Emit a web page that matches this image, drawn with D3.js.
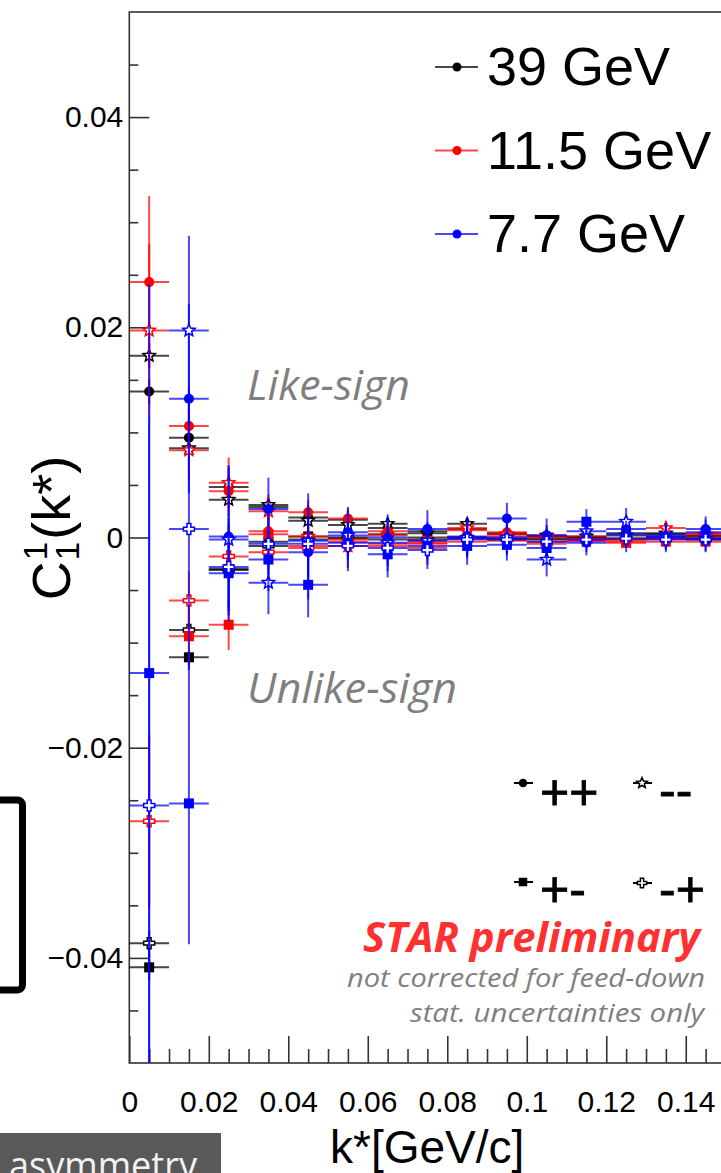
<!DOCTYPE html>
<html><head><meta charset="utf-8">
<script src="https://cdn.jsdelivr.net/npm/d3@7/dist/d3.min.js"></script>
<style>html,body{margin:0;padding:0;background:#fff;} svg{display:block;}</style>
</head><body>
<svg id="c" width="721" height="1173"></svg>
<script>
// ---------------- DATA ----------------
const kStar = [0.005,0.015,0.025,0.035,0.045,0.055,0.065,0.075,0.085,0.095,0.105,0.115,0.125,0.135,0.145];
const binHalfWidth = 0.005;

// 39 GeV (black)
const c39_pp = [0.0139,0.0095,0.0048,0.0029,0.0019,0.0017,0.0009,0.0006,0.0008,0.0004,0.0001,0.0000,0.0004,0.0003,0.0002];
const c39_mm = [0.0173,0.0085,0.0036,0.0031,0.0016,0.0012,0.0013,0.0004,0.0013,0.0003,0.0002,0.0001,0.0002,0.0004,0.0001];
const c39_pm = [-0.0409,-0.0114,-0.0030,-0.0004,0.0001,-0.0001,-0.0002,0.0000,-0.0001,-0.0002,-0.0001,0.0000,-0.0002,-0.0001,-0.0001];
const c39_mp = [-0.0386,-0.0088,-0.0031,-0.0008,-0.0002,0.0000,0.0003,-0.0002,0.0000,-0.0001,-0.0002,0.0000,-0.0001,0.0000,-0.0002];
const e39    = [0.0012,0.0006,0.0004,0.0003,0.0003,0.0002,0.0002,0.0002,0.0002,0.0002,0.0002,0.0001,0.0001,0.0001,0.0001];

// 11.5 GeV (red)
const c11_pp = [0.0243,0.0106,0.0044,0.0006,0.0024,0.0018,0.0006,-0.0005,0.0007,0.0005,0.0002,0.0001,-0.0002,-0.0001,0.0004];
const c11_mm = [0.0197,0.0083,0.0052,0.0025,0.0001,-0.0008,0.0002,-0.0006,0.0009,0.0003,0.0000,-0.0003,-0.0004,0.0009,0.0003];
const c11_pm = [null,-0.0094,-0.0083,0.0003,-0.0008,-0.0002,-0.0006,-0.0003,-0.0004,-0.0003,-0.0004,-0.0002,-0.0005,-0.0004,-0.0004];
const c11_mp = [-0.0270,-0.0060,-0.0018,-0.0014,-0.0010,-0.0004,-0.0008,-0.0010,0.0000,0.0001,-0.0006,-0.0003,-0.0002,-0.0001,0.0000];
const e11    = [0.0082,0.0028,0.0024,0.0016,0.0012,0.0010,0.0009,0.0008,0.0007,0.0007,0.0006,0.0006,0.0005,0.0005,0.0005];

// 7.7 GeV (blue)
const c77_pp = [null,0.0132,0.0001,0.0027,-0.0014,0.0005,0.0000,0.0008,0.0001,0.0018,0.0002,-0.0005,0.0008,0.0001,0.0008];
const c77_mm = [null,0.0197,-0.0002,-0.0043,-0.0003,0.0002,-0.0005,-0.0003,0.0000,0.0000,-0.0021,0.0006,0.0015,0.0002,-0.0001];
const c77_pm = [-0.0129,-0.0253,-0.0034,-0.0021,-0.0045,-0.0005,-0.0016,-0.0008,-0.0008,-0.0007,-0.0010,0.0015,0.0003,0.0000,0.0005];
const c77_mp = [-0.0255,0.0008,-0.0028,-0.0006,-0.0006,-0.0008,-0.0010,-0.0012,-0.0002,-0.0002,-0.0004,-0.0002,-0.0001,-0.0002,-0.0002];
const e77_like   = [0.037,0.0090,0.0068,0.0030,0.0045,0.0024,0.0022,0.0018,0.0018,0.0015,0.0016,0.0012,0.0013,0.0012,0.0012];
const e77_unlike = [0.037,0.0134,0.0046,0.0030,0.0031,0.0024,0.0022,0.0018,0.0018,0.0015,0.0016,0.0012,0.0013,0.0012,0.0012];

const energyLabels = ["39 GeV","11.5 GeV","7.7 GeV"];
const energyColors = ["#000000","#ff0000","#0000ff"];
const chargeLabels = ["++","--","+-","-+"];
const xTickValues = [0,0.02,0.04,0.06,0.08,0.1,0.12,0.14];
const xTickLabels = ["0","0.02","0.04","0.06","0.08","0.1","0.12","0.14"];
const yTickValues = [-0.04,-0.02,0,0.02,0.04];
const yTickLabels = ["\u22120.04","\u22120.02","0","0.02","0.04"];

// ---------------- SETUP ----------------
const svg = d3.select("#c");
const L = 129.3, R = 725.5, T = 12, B = 1063;
const x = d3.scaleLinear().domain([0,0.15]).range([L,R]);
const y = d3.scaleLinear().domain([-0.05,0.05]).range([B,T]);

svg.append("defs").append("clipPath").attr("id","plotclip")
  .append("rect").attr("x",L).attr("y",T).attr("width",R-L).attr("height",B-T);

const yMinor = d3.range(-0.045,0.0451,0.005).map(v=>+v.toFixed(3)).filter(v=>Math.abs(Math.round(v/0.02)*0.02 - v) > 1e-6);
const xMinor = d3.range(0.005,0.15,0.005).map(v=>+v.toFixed(3)).filter(v=>Math.abs(Math.round(v/0.02)*0.02 - v) > 1e-6);

const fam = "Liberation Sans, Arial, sans-serif";
const gYminor = svg.append("g").attr("transform",`translate(${L},0)`)
  .call(d3.axisLeft(y).tickValues(yMinor).tickSize(-9).tickFormat(""));
const gY = svg.append("g").attr("transform",`translate(${L},0)`)
  .call(d3.axisLeft(y).tickValues(yTickValues).tickSize(-20).tickPadding(6)
        .tickFormat((d,i)=>yTickLabels[i]));
const gXminor = svg.append("g").attr("transform",`translate(0,${B})`)
  .call(d3.axisBottom(x).tickValues(xMinor).tickSize(-14).tickFormat(""));
const gX = svg.append("g").attr("transform",`translate(0,${B})`)
  .call(d3.axisBottom(x).tickValues(xTickValues).tickSize(-27).tickPadding(28)
        .tickFormat((d,i)=>xTickLabels[i]));
[gYminor,gY,gXminor,gX].forEach(g=>{
  g.select(".domain").remove();
  g.selectAll(".tick line").attr("stroke","#333").attr("stroke-width",1.6);
});
gY.selectAll(".tick text").attr("font-family",fam).attr("font-size",30).attr("fill","#000");
gX.selectAll(".tick text").attr("font-family",fam).attr("font-size",30).attr("fill","#000");

svg.append("rect").attr("x",L).attr("y",T).attr("width",R-L).attr("height",B-T)
  .attr("fill","none").attr("stroke","#333").attr("stroke-width",1.6);

// ---------------- MARKERS ----------------
function starPath(Rr){ const r=Rr*0.45; let p="";
  for(let i=0;i<10;i++){ const a=-Math.PI/2+i*Math.PI/5; const rr=i%2?r:Rr;
    p+=(i?"L":"M")+(rr*Math.cos(a)).toFixed(2)+","+(rr*Math.sin(a)).toFixed(2);} return p+"Z"; }
function crossPath(Lh,t){ return `M${-t},${-Lh}H${t}V${-t}H${Lh}V${t}H${t}V${Lh}H${-t}V${t}H${-Lh}V${-t}H${-t}Z`; }
function drawMarker(g, type, cx, cy, color, scale){
  const s = scale||1;
  if(type==="circle"){
    g.append("circle").attr("cx",cx).attr("cy",cy).attr("r",5*s).attr("fill",color);
  } else if(type==="square"){
    g.append("rect").attr("x",cx-5*s).attr("y",cy-5*s).attr("width",10*s).attr("height",10*s).attr("fill",color);
  } else if(type==="star"){
    g.append("path").attr("d",starPath(6.5*s)).attr("transform",`translate(${cx},${cy})`)
      .attr("fill","#fff").attr("stroke",color).attr("stroke-width",1.5);
  } else if(type==="cross"){
    g.append("path").attr("d",crossPath(5.5*s,1.9*s)).attr("transform",`translate(${cx},${cy})`)
      .attr("fill","#fff").attr("stroke",color).attr("stroke-width",1.5);
  }
}

// ---------------- SERIES ----------------
const markerTypes = ["circle","star","square","cross"];
const seriesList = [
  {vals:c39_pp,err:e39,e:0,m:0},{vals:c39_mm,err:e39,e:0,m:1},{vals:c39_pm,err:e39,e:0,m:2},{vals:c39_mp,err:e39,e:0,m:3},
  {vals:c11_pp,err:e11,e:1,m:0},{vals:c11_mm,err:e11,e:1,m:1},{vals:c11_pm,err:e11,e:1,m:2},{vals:c11_mp,err:e11,e:1,m:3},
  {vals:c77_pp,err:e77_like,e:2,m:0},{vals:c77_mm,err:e77_like,e:2,m:1},{vals:c77_pm,err:e77_unlike,e:2,m:2},{vals:c77_mp,err:e77_unlike,e:2,m:3}
];
const plotG = svg.append("g").attr("clip-path","url(#plotclip)");
seriesList.forEach(s=>{
  const col = energyColors[s.e];
  const g = plotG.append("g");
  const pts = kStar.map((k,i)=>({k, v:s.vals[i], e:s.err[i]})).filter(p=>p.v!==null);
  g.selectAll("line.h").data(pts).enter().append("line")
    .attr("x1",p=>x(p.k-binHalfWidth)).attr("x2",p=>x(p.k+binHalfWidth))
    .attr("y1",p=>y(p.v)).attr("y2",p=>y(p.v))
    .attr("stroke",col).attr("stroke-width",2).attr("stroke-opacity",0.72);
  g.selectAll("line.v").data(pts).enter().append("line")
    .attr("x1",p=>x(p.k)).attr("x2",p=>x(p.k))
    .attr("y1",p=>y(p.v+p.e)).attr("y2",p=>y(p.v-p.e))
    .attr("stroke",col).attr("stroke-width",2).attr("stroke-opacity",0.72);
  pts.forEach(p=>drawMarker(g, markerTypes[s.m], x(p.k), y(p.v), col));
});

// ---------------- ENERGY LEGEND ----------------
energyLabels.forEach((lab,i)=>{
  const yy = 67 + i*83.5;
  svg.append("line").attr("x1",435).attr("x2",478).attr("y1",yy).attr("y2",yy)
    .attr("stroke",energyColors[i]).attr("stroke-width",2).attr("stroke-opacity",0.72);
  svg.append("circle").attr("cx",457).attr("cy",yy).attr("r",4.5).attr("fill",energyColors[i]);
  svg.append("text").attr("x",487).attr("y",yy+18).text(lab)
    .attr("font-family",fam).attr("font-size",54).attr("fill","#000");
});

// ---------------- CHARGE LEGEND ----------------
const chPos = [[523,783,809],[642,783,807],[523,882,906],[642,883,906]];
chargeLabels.forEach((lab,i)=>{
  const [mx,my,by] = chPos[i];
  svg.append("line").attr("x1",mx-9).attr("x2",mx+10).attr("y1",my).attr("y2",my)
    .attr("stroke","#000").attr("stroke-width",2);
  drawMarker(svg, markerTypes[i], mx, my, "#000", 0.85);
  svg.append("text").attr("x",mx+17).attr("y",by).text(lab)
    .attr("font-family",fam).attr("font-size",50).attr("fill","#000")
    .attr("stroke","#000").attr("stroke-width",0.8);
});

// ---------------- ANNOTATIONS ----------------
function ann(txt,xx,yy,size,len,opts){
  const t = svg.append("text").attr("x",xx).attr("y",yy).text(txt)
    .attr("font-family","Open Sans, sans-serif").attr("font-size",size)
    .attr("font-style","italic").attr("fill",opts.fill||"#7f7f7f");
  if(opts.weight) t.attr("font-weight",opts.weight);
  if(len) t.attr("textLength",len).attr("lengthAdjust","spacingAndGlyphs");
  return t;
}
ann("Like-sign",247,400,42,163,{});
ann("Unlike-sign",247,703,42,210,{});
ann("STAR preliminary",363,952,41,337,{fill:"#ff3030",weight:"bold"});
ann("not corrected for feed-down",347,987,25,358,{});
ann("stat. uncertainties only",410,1022,25,294,{});

// ---------------- AXIS TITLES ----------------
svg.append("text").attr("x",330).attr("y",1163).text("k*[GeV/c]")
  .attr("font-family",fam).attr("font-size",46).attr("fill","#000");

const yt = svg.append("g").attr("transform","translate(70,528) rotate(-90)");
const tmpC = yt.append("text").text("C").attr("font-family",fam).attr("font-size",54);
const tmp1 = yt.append("text").text("1").attr("font-family",fam).attr("font-size",33);
const tmpK = yt.append("text").text("(k*)").attr("font-family",fam).attr("font-size",54);
const wC = tmpC.node().getComputedTextLength(), w1 = tmp1.node().getComputedTextLength(), wK = tmpK.node().getComputedTextLength();
const W = wC + w1 + 3 + wK, x0 = -W/2;
tmpC.attr("x",x0).attr("y",0);
tmp1.attr("x",x0+wC+1).attr("y",9);
yt.append("text").text("1").attr("font-family",fam).attr("font-size",33).attr("x",x0+wC+1).attr("y",-23);
tmpK.attr("x",x0+wC+w1+3).attr("y",0);

// ---------------- LEFT DECOR ----------------
svg.append("rect").attr("x",-40).attr("y",800).attr("width",62.5).attr("height",190)
  .attr("rx",5).attr("fill","none").attr("stroke","#000").attr("stroke-width",7);
svg.append("rect").attr("x",0).attr("y",1133).attr("width",221).attr("height",45).attr("fill","#595959");
svg.append("text").attr("x",9).attr("y",1179).text("asymmetry")
  .attr("font-family","Open Sans, sans-serif").attr("font-size",38).attr("fill","#f2f2f2")
  .attr("textLength",188).attr("lengthAdjust","spacingAndGlyphs");
</script>
</body></html>
